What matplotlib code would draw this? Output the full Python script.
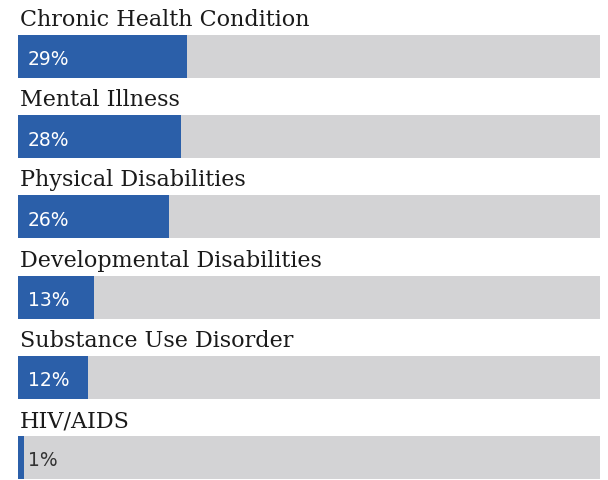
import matplotlib
matplotlib.use("Agg")
import matplotlib.pyplot as plt

categories = ["Chronic Health Condition", "Mental Illness", "Physical Disabilities",
              "Developmental Disabilities", "Substance Use Disorder", "HIV/AIDS"]
values = [29, 28, 26, 13, 12, 1]

W, H = 608, 480
fig = plt.figure(figsize=(W / 100, H / 100), dpi=100)
fig.patch.set_facecolor("white")
ax = fig.add_axes([18 / W, 0, 582 / W, 1])
pitch = 80.2
top_c = 56.5
ax.set_xlim(0, 100)
ax.set_ylim((H - top_c) / pitch, -top_c / pitch)
ax.axis("off")

ys = list(range(len(categories)))
bh = 43 / pitch
ax.barh(ys, [100] * len(ys), height=bh, color="#d3d3d5", edgecolor="none")
ax.barh(ys, values, height=bh, color="#2b5fa9", edgecolor="none")

for y, cat, v in zip(ys, categories, values):
    ax.text(0.3, y - 0.38, cat, family="DejaVu Serif", fontsize=16,
            color="#1a1a1a", va="baseline", ha="left")
    col = "white" if v >= 5 else "#333333"
    ax.text(1.7, y + 0.11, f"{v}%", family="DejaVu Sans", fontsize=13.5,
            color=col, va="baseline", ha="left")

fig.savefig("out.png", dpi=100)
